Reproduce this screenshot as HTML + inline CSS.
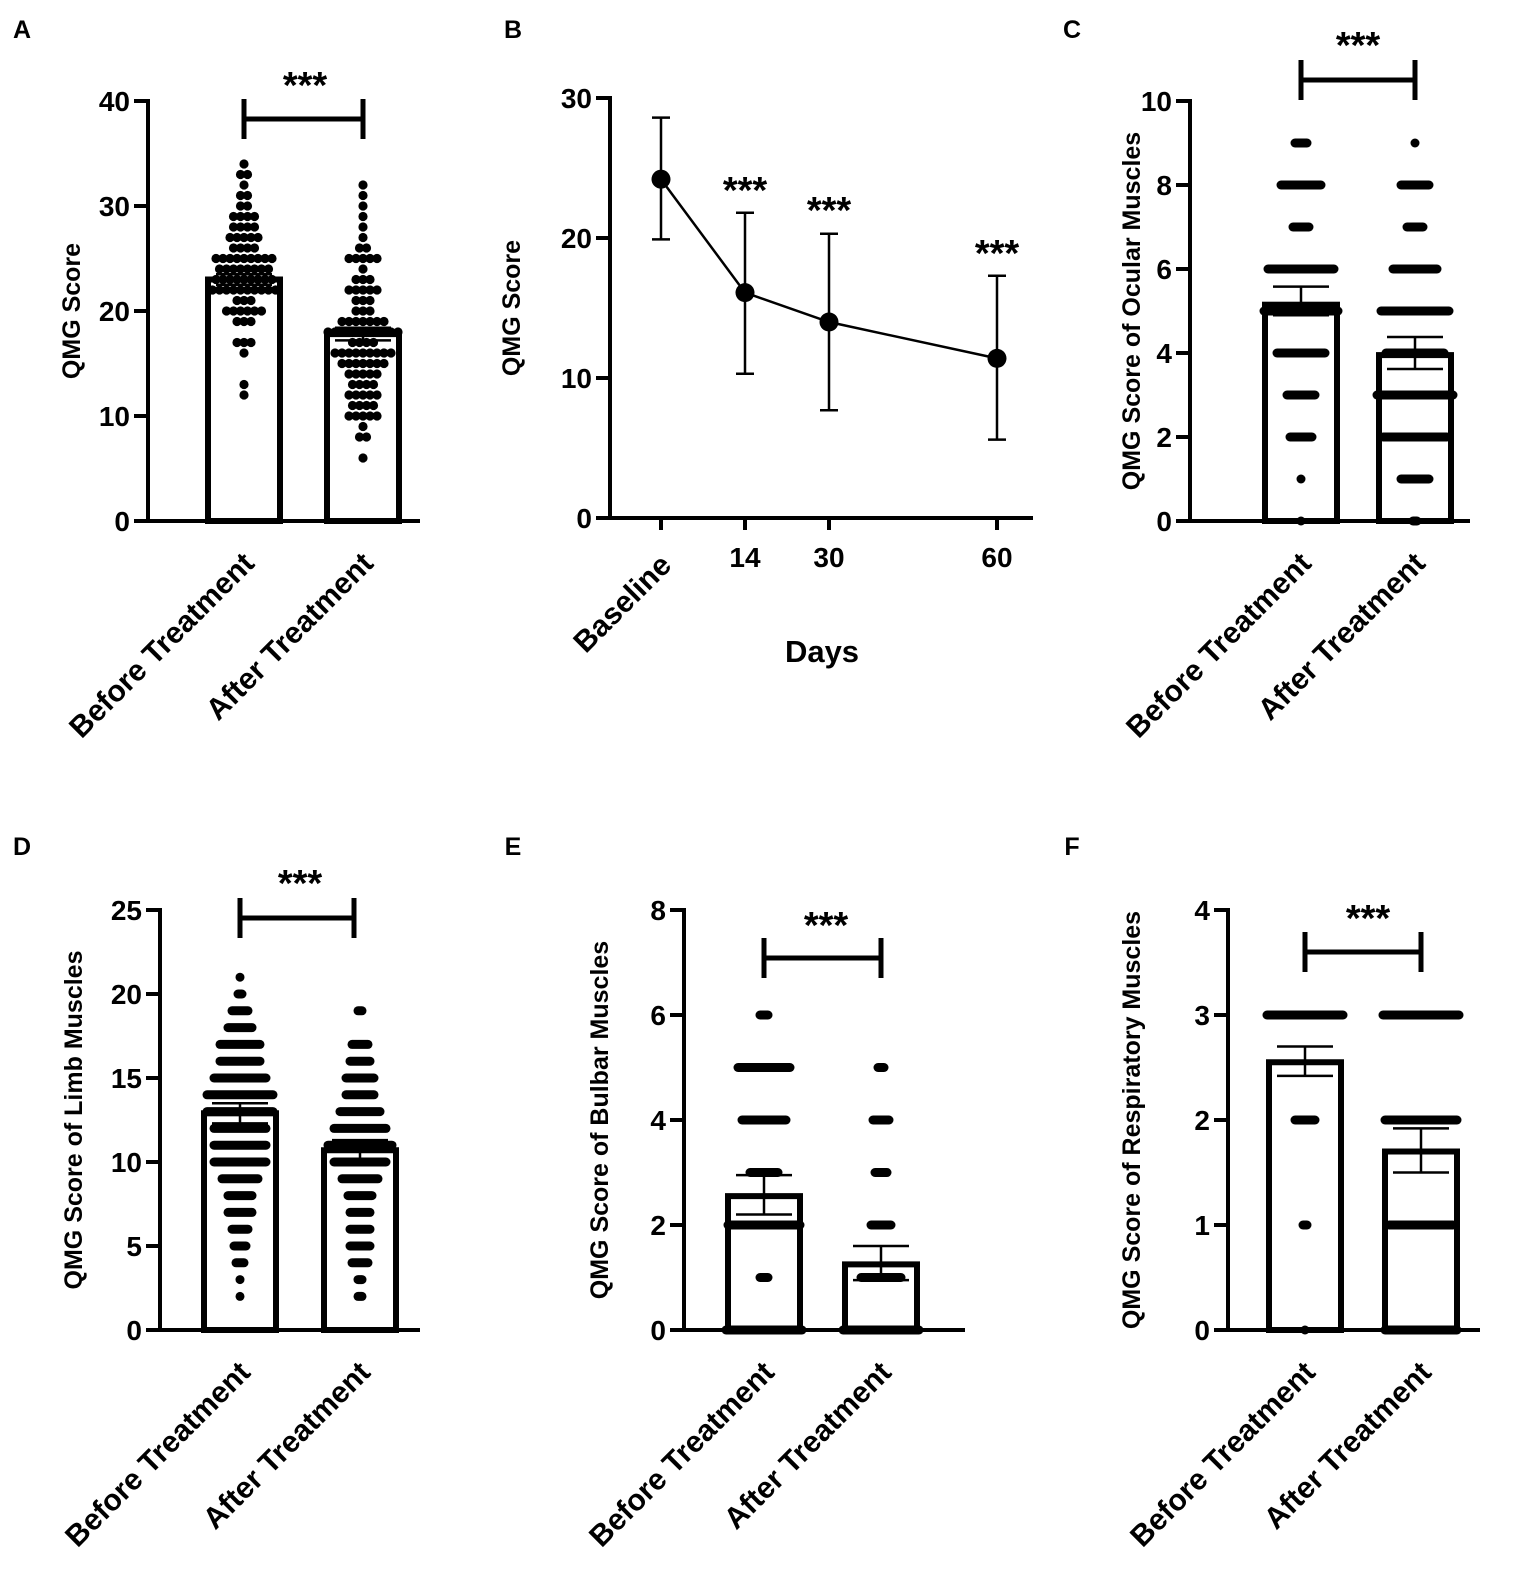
<!DOCTYPE html>
<html><head><meta charset="utf-8"><style>body{margin:0;background:#fff}svg{display:block}text{font-family:"Liberation Sans",Arial,sans-serif;font-weight:bold;fill:#000}</style></head>
<body>
<svg id="s" width="1535" height="1592" xmlns="http://www.w3.org/2000/svg"></svg>
<script>
const S=document.getElementById('s');let h='';
function L(x1,y1,x2,y2,w,cap){h+=`<line x1="${x1}" y1="${y1}" x2="${x2}" y2="${y2}" stroke="#000" stroke-width="${w}" stroke-linecap="${cap||'butt'}"/>`;}
function T(x,y,t,sz,anc,rot){h+=`<text x="${x}" y="${y}" font-size="${sz}" text-anchor="${anc||'middle'}"${rot!==undefined?` transform="rotate(${rot} ${x} ${y})"`:''}>${t}</text>`;}
function axis(ax,y0,yT,vmax,step,xEnd,ylab,ylx){
  const sc=(y0-yT)/vmax;
  L(ax,yT-2,ax,y0+2,4);L(ax-2,y0,xEnd,y0,4);
  for(let v=0;v<=vmax+1e-9;v+=step){const y=y0-v*sc;L(ax-14,y,ax,y,4);T(ax-18,y+10,v,28,'end');}
  T(ylx,(y0+yT)/2,ylab,25,'middle',-90);
  return v=>y0-v*sc;
}
function bar(cx,Y,y0,val,hi,lo){h+=`<rect x="${cx-36}" y="${Y(val)}" width="72" height="${y0-Y(val)}" fill="none" stroke="#000" stroke-width="6"/>`;
  L(cx,Y(lo),cx,Y(hi),2.5);L(cx-28,Y(hi),cx+28,Y(hi),2.5);L(cx-28,Y(lo),cx+28,Y(lo),2.5);}
function rows(cx,Y,arr){arr.forEach(([v,hw])=>L(cx-hw,Y(v),cx+hw,Y(v),9,'round'));}
function dots(cx,Y,arr){arr.forEach(([v,n])=>{for(let i=0;i<n;i++){h+=`<circle cx="${cx+(i-(n-1)/2)*7}" cy="${Y(v)}" r="4.6"/>`;}});}
function br(x1,x2,y,sy,sx){L(x1,y,x2,y,5);L(x1,y-20,x1,y+20,5);L(x2,y-20,x2,y+20,5);T(sx,sy,'***',38);}
function cats(x1,x2,y0){T(x1+12,y0+44,'Before Treatment',30,'end',-45);T(x2+12,y0+44,'After Treatment',30,'end',-45);}
// A
let Y=axis(148,521,101,40,10,420,'QMG Score',80);
dots(244,Y,[[34,1],[33,2],[32,1],[31,2],[30,2],[29,4],[28,4],[27,5],[26,4],[25,9],[24,8],[23,9],[22,10],[21,3],[20,6],[19,3],[17,3],[16,1],[13,1],[12,1]]);
dots(363,Y,[[32,1],[31,1],[30,1],[29,1],[28,1],[27,1],[26,2],[25,5],[24,1],[23,3],[22,5],[21,3],[20,3],[19,7],[18,11],[17,4],[16,9],[15,7],[14,5],[13,4],[12,5],[11,4],[10,5],[9,1],[8,2],[6,1]]);
bar(244,Y,521,23,23.5,22.5);bar(363,Y,521,17.8,18.4,17.2);
br(244,363,119,98,305);cats(244,363,521);
// B
Y=axis(610,518,98,30,10,1033,'QMG Score',520);
const P=[[661,24.2,28.6,19.9],[745,16.1,21.8,10.3],[829,14,20.3,7.7],[997,11.4,17.3,5.6]];
h+=`<polyline points="${P.map(p=>p[0]+','+Y(p[1])).join(' ')}" fill="none" stroke="#000" stroke-width="2.5"/>`;
P.forEach(p=>{L(p[0],Y(p[3]),p[0],Y(p[2]),2.5);L(p[0]-9,Y(p[2]),p[0]+9,Y(p[2]),2.5);L(p[0]-9,Y(p[3]),p[0]+9,Y(p[3]),2.5);h+=`<circle cx="${p[0]}" cy="${Y(p[1])}" r="9.5"/>`;L(p[0],518,p[0],530,4);});
T(745,567,'14',28);T(829,567,'30',28);T(997,567,'60',28);
T(673,567,'Baseline',30,'end',-45);T(822,662,'Days',31);
T(745,203,'***',38);T(829,223,'***',38);T(997,266,'***',38);
// C
Y=axis(1190,521,101,10,2,1470,'QMG Score of Ocular Muscles',1140);
rows(1301,Y,[[9,6],[8,20],[7,8],[6,33],[5,37],[4,24],[3,14],[2,11],[1,0],[0,0]]);
rows(1415,Y,[[9,0],[8,14],[7,8],[6,22],[5,34],[4,29],[3,38],[2,32],[1,14],[0,2]]);
bar(1301,Y,521,5.15,5.58,4.9);bar(1415,Y,521,3.95,4.38,3.62);
br(1301,1415,80,58,1358);cats(1301,1415,521);
// D
Y=axis(160,1330,910,25,5,420,'QMG Score of Limb Muscles',82);
rows(240,Y,[[21,0],[20,2],[19,8],[18,12],[17,20],[16,20],[15,26],[14,33],[13,33],[12,26],[11,26],[10,26],[9,18],[8,12],[7,12],[6,8],[5,6],[4,4],[3,0],[2,0]]);
rows(360,Y,[[19,2],[17,8],[16,10],[15,14],[14,14],[13,20],[12,26],[11,32],[10,26],[9,18],[8,12],[7,10],[6,10],[5,10],[4,8],[3,2],[2,2]]);
bar(240,Y,1330,12.9,13.5,12.3);bar(360,Y,1330,10.7,11.3,10.1);
br(240,354,918,896,300);cats(240,360,1330);
// E
Y=axis(684,1330,910,8,2,965,'QMG Score of Bulbar Muscles',608);
rows(764,Y,[[6,4],[5,26],[4,22],[3,14],[2,36],[1,4],[0,38]]);
rows(881,Y,[[5,3],[4,8],[3,6],[2,10],[1,20],[0,38]]);
bar(764,Y,1330,2.55,2.95,2.2);bar(881,Y,1330,1.25,1.6,0.95);
br(764,881,958,938,826);cats(764,881,1330);
// F
Y=axis(1228,1330,910,4,1,1480,'QMG Score of Respiratory Muscles',1140);
rows(1305,Y,[[3,38],[2,10],[1,2],[0,0]]);
rows(1421,Y,[[3,38],[2,36],[1,32],[0,36]]);
bar(1305,Y,1330,2.55,2.7,2.42);bar(1421,Y,1330,1.7,1.92,1.5);
br(1305,1421,952,931,1368);cats(1305,1421,1330);
// letters
[['A',22,38],['B',513,38],['C',1072,38],['D',22,855],['E',513,855],['F',1072,855]].forEach(a=>T(a[1],a[2],a[0],25,'middle'));
S.innerHTML=h;
</script>
</body></html>
